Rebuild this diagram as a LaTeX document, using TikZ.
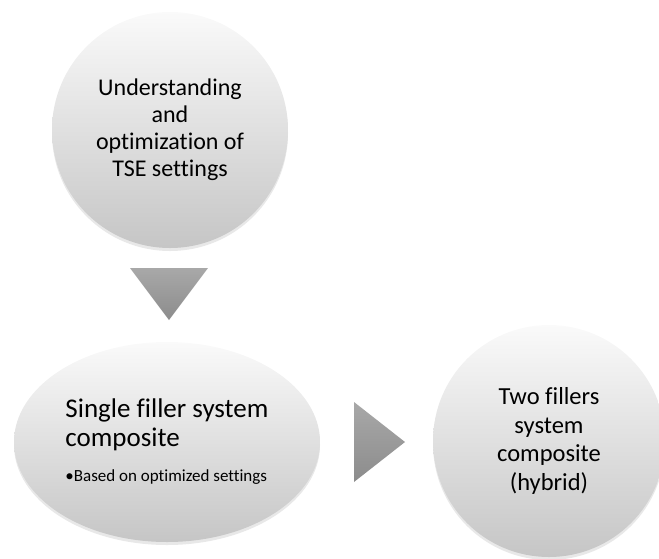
\documentclass[tikz,border=0pt]{standalone}
\usepackage{fontspec}
\setmainfont[Ligatures=NoCommon]{Carlito}
\usetikzlibrary{shapes.geometric, shadows}
\tikzset{
  bubble/.style = {inner sep=0pt, top color=gray!4, bottom color=gray!45,
    drop shadow={opacity=0.18, shadow xshift=0pt, shadow yshift=-3pt}},
  pointer/.style = {top color=gray!68, bottom color=gray!105!black!95}
}

\begin{document}
\begin{tikzpicture}[x=1pt, y=-1pt]
\useasboundingbox (0,0) rectangle (659,558);
% the three stages
\node[bubble, circle, minimum size=236pt, align=center,
  font=\fontsize{24}{27}\selectfont] (tse) at (170,130)
  {Understanding\\and\\optimization of\\TSE settings};
\node[bubble, ellipse, minimum width=306pt, minimum height=200pt, align=left,
  font=\fontsize{27}{29}\selectfont] (single) at (167,442)
  {Single filler system\\composite\\[6pt]
   {\fontsize{17}{20}\selectfont\textbullet Based on optimized settings}};
\node[bubble, circle, minimum size=232pt, align=center,
  font=\fontsize{24.5}{28.5}\selectfont] (hybrid) at (549,441)
  {Two fillers\\system\\composite\\(hybrid)};
% the arrows between them
\coordinate (dn) at (169,294);
\coordinate (rt) at (380,442);
\shade[pointer] ([xshift=-39pt, yshift=26pt]dn) -- ([xshift=39pt, yshift=26pt]dn) -- ([yshift=-26pt]dn) -- cycle;
\shade[pointer] ([xshift=-26pt, yshift=-40pt]rt) -- ([xshift=25pt]rt) -- ([xshift=-26pt, yshift=40pt]rt) -- cycle;
\end{tikzpicture}
\end{document}
